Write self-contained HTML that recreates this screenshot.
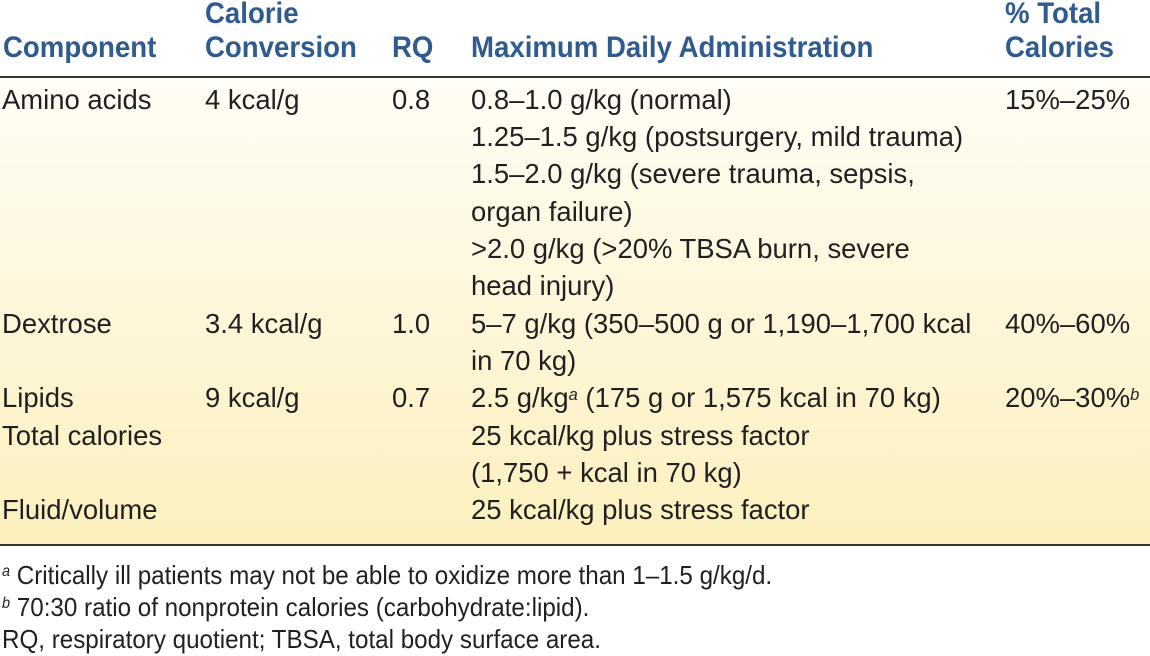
<!DOCTYPE html>
<html><head><meta charset="utf-8"><style>
html,body{margin:0;padding:0;background:#fff;}
body{width:1150px;height:656px;position:relative;overflow:hidden;font-family:"Liberation Sans",Arial,sans-serif;color:#231f20;}
.bg{position:absolute;left:0;top:78px;width:1150px;height:467px;background:linear-gradient(#fffdf6,#fcf0bd);}
.l1{position:absolute;left:0;top:76px;width:1150px;height:2px;background:#333;}
.l2{position:absolute;left:0;top:544px;width:1150px;height:2px;background:#333;}
.t{position:absolute;white-space:nowrap;font-size:28px;line-height:30px;transform:scaleX(0.98);transform-origin:0 50%;}
.h{font-weight:bold;color:#2f5b8e;font-size:30px;transform:scaleX(0.92);}
.f{position:absolute;white-space:nowrap;font-size:26px;line-height:28px;transform:scaleX(0.93);transform-origin:0 50%;}
sup{font-size:60%;font-style:italic;vertical-align:top;position:relative;top:-3px;}
</style></head><body>
<div class="bg"></div><div class="l1"></div><div class="l2"></div>
<div class="t h" style="left:3px;top:33px">Component</div>
<div class="t h" style="left:205px;top:-1px">Calorie</div>
<div class="t h" style="left:205px;top:33px">Conversion</div>
<div class="t h" style="left:392px;top:33px">RQ</div>
<div class="t h" style="left:471px;top:33px">Maximum Daily Administration</div>
<div class="t h" style="left:1005px;top:-1px">% Total</div>
<div class="t h" style="left:1005px;top:33px">Calories</div>

<div class="t" style="left:2px;top:85px">Amino acids</div>
<div class="t" style="left:205px;top:85px">4 kcal/g</div>
<div class="t" style="left:392px;top:85px">0.8</div>
<div class="t" style="left:471px;top:85px">0.8–1.0 g/kg (normal)</div>
<div class="t" style="left:1005px;top:85px">15%–25%</div>
<div class="t" style="left:471px;top:122px">1.25–1.5 g/kg (postsurgery, mild trauma)</div>
<div class="t" style="left:471px;top:159px">1.5–2.0 g/kg (severe trauma, sepsis,</div>
<div class="t" style="left:471px;top:197px">organ failure)</div>
<div class="t" style="left:471px;top:234px">&gt;2.0 g/kg (&gt;20% TBSA burn, severe</div>
<div class="t" style="left:471px;top:271px">head injury)</div>

<div class="t" style="left:2px;top:309px">Dextrose</div>
<div class="t" style="left:205px;top:309px">3.4 kcal/g</div>
<div class="t" style="left:392px;top:309px">1.0</div>
<div class="t" style="left:471px;top:309px">5–7 g/kg (350–500 g or 1,190–1,700 kcal</div>
<div class="t" style="left:1005px;top:309px">40%–60%</div>
<div class="t" style="left:471px;top:346px">in 70 kg)</div>

<div class="t" style="left:2px;top:383px">Lipids</div>
<div class="t" style="left:205px;top:383px">9 kcal/g</div>
<div class="t" style="left:392px;top:383px">0.7</div>
<div class="t" style="left:471px;top:383px">2.5 g/kg<sup>a</sup> (175 g or 1,575 kcal in 70 kg)</div>
<div class="t" style="left:1005px;top:383px">20%–30%<sup>b</sup></div>
<div class="t" style="left:2px;top:421px">Total calories</div>
<div class="t" style="left:471px;top:421px">25 kcal/kg plus stress factor</div>
<div class="t" style="left:471px;top:458px">(1,750 + kcal in 70 kg)</div>
<div class="t" style="left:2px;top:495px">Fluid/volume</div>
<div class="t" style="left:471px;top:495px">25 kcal/kg plus stress factor</div>

<div class="f" style="left:2px;top:561px"><sup>a</sup> Critically ill patients may not be able to oxidize more than 1–1.5 g/kg/d.</div>
<div class="f" style="left:2px;top:593px"><sup>b</sup> 70:30 ratio of nonprotein calories (carbohydrate:lipid).</div>
<div class="f" style="left:2px;top:625px">RQ, respiratory quotient; TBSA, total body surface area.</div>
</body></html>
